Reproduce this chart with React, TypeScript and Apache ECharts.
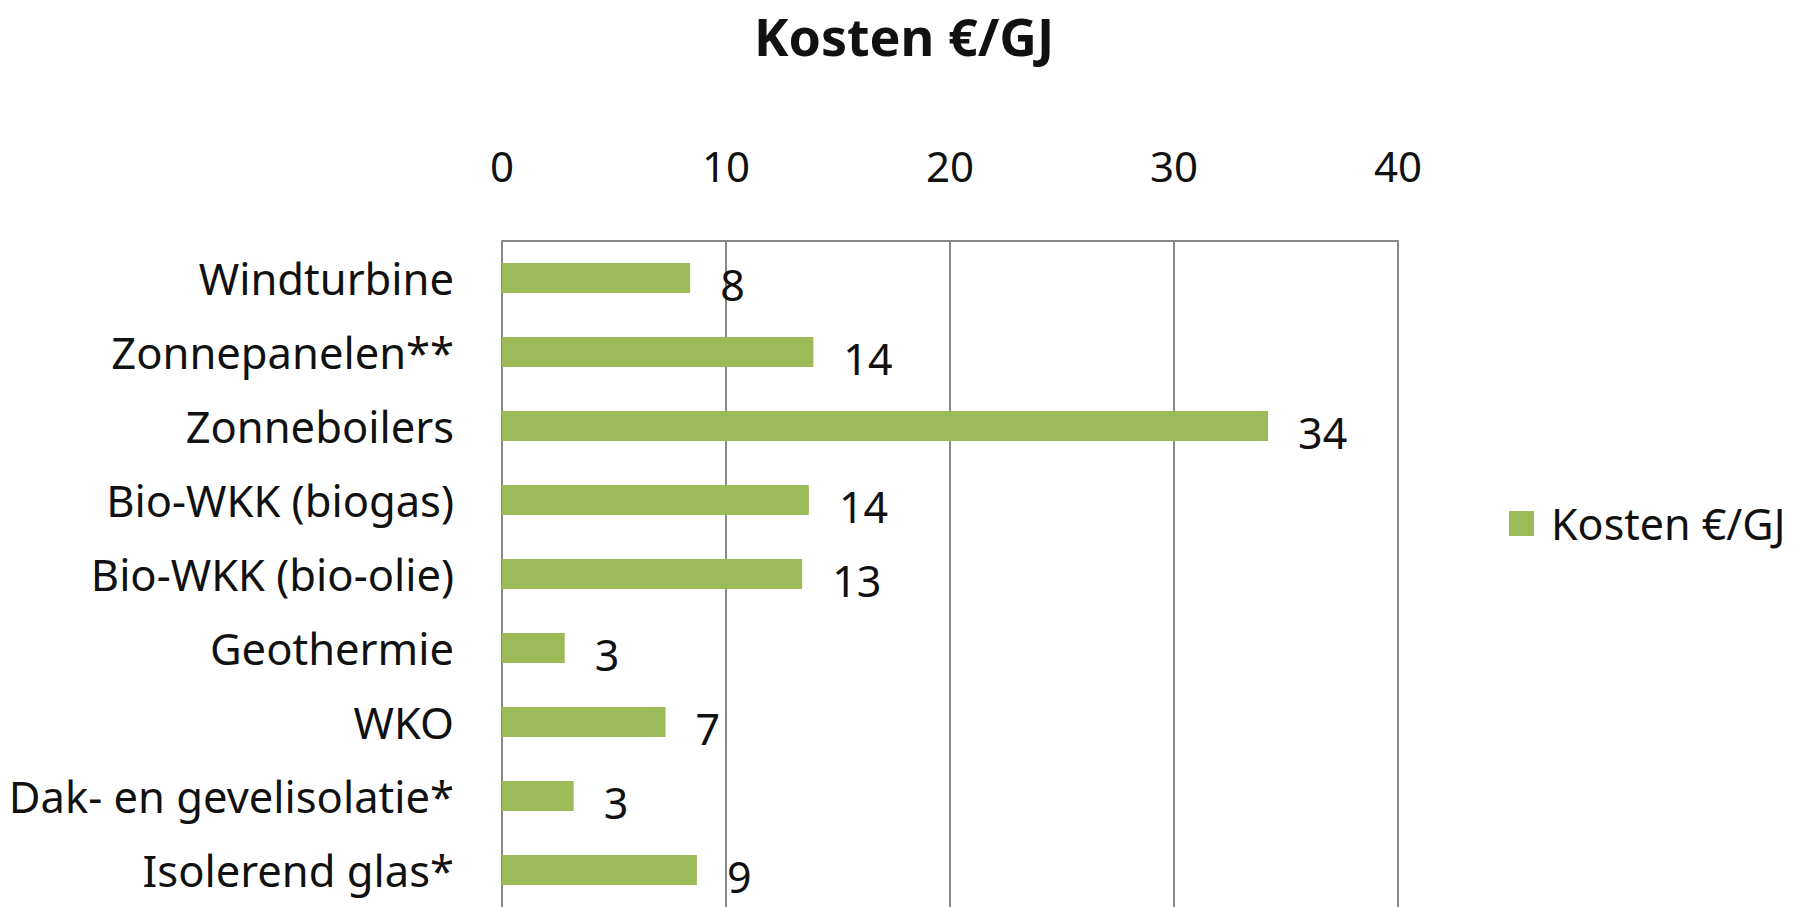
import React, { useEffect, useRef } from "react";
import * as echarts from "echarts";

const categories = [
  "Windturbine",
  "Zonnepanelen**",
  "Zonneboilers",
  "Bio-WKK (biogas)",
  "Bio-WKK (bio-olie)",
  "Geothermie",
  "WKO",
  "Dak- en gevelisolatie*",
  "Isolerend glas*",
];
const values = [8.4, 13.9, 34.2, 13.7, 13.4, 2.8, 7.3, 3.2, 8.7];
const seriesName = "Kosten €/GJ";
const titleText = "Kosten €/GJ";

const FONT = "'Noto Sans', 'Open Sans', sans-serif";

export default function App() {
  const ref = useRef<HTMLDivElement>(null);
  useEffect(() => {
    if (!ref.current) return;
    const chart = echarts.init(ref.current, undefined, { renderer: "svg" });
    chart.setOption({
      animation: false,
      backgroundColor: "#ffffff",
      textStyle: { fontFamily: FONT },
      title: {
        text: titleText,
        left: 899,
        textAlign: "center",
        top: 4,
        textStyle: { fontFamily: FONT, fontSize: 52, fontWeight: "bold", color: "#111" },
      },
      legend: {
        data: [seriesName],
        left: 1504,
        top: 497,
        itemWidth: 25,
        itemHeight: 25,
        itemGap: 10,
        icon: "rect",
        textStyle: { fontFamily: FONT, fontSize: 43, color: "#111", padding: [0, 0, 0, 12] },
      },
      grid: { left: 502, right: 405, top: 241, bottom: 0, containLabel: false },
      xAxis: {
        type: "value",
        position: "top",
        min: 0,
        max: 40,
        interval: 10,
        axisLine: { show: true, lineStyle: { color: "#888", width: 2 } },
        axisTick: { show: false },
        splitLine: { show: true, lineStyle: { color: "#888", width: 2 } },
        axisLabel: { fontFamily: FONT, fontSize: 42, color: "#111", margin: 55 },
      },
      yAxis: {
        type: "category",
        data: categories,
        inverse: true,
        axisLine: { show: true, lineStyle: { color: "#888", width: 2 } },
        axisTick: { show: false },
        axisLabel: { fontFamily: FONT, fontSize: 43.5, color: "#111", margin: 48 },
      },
      series: [
        {
          name: seriesName,
          type: "bar",
          data: values,
          barWidth: 30,
          itemStyle: { color: "#9BBB59" },
          label: {
            show: true,
            position: "right",
            distance: 30,
            offset: [0, 6],
            fontFamily: FONT,
            fontSize: 43,
            color: "#111",
            formatter: (p: any) => String(Math.round(p.value)),
          },
        },
      ],
    });
    return () => chart.dispose();
  }, []);
  return (
    <div
      ref={ref}
      style={{ position: "fixed", left: 0, top: 0, width: 1803, height: 907 }}
    />
  );
}
